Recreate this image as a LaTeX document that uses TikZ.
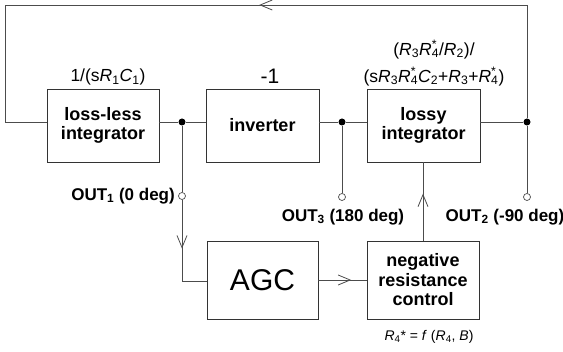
\documentclass[tikz,border=0pt]{standalone}
\usepackage{fontspec}
\setmainfont{Liberation Sans}
\usetikzlibrary{arrows.meta, positioning, calc, decorations.markings}
\newcommand{\Rstar}[1]{\textit{R}\rlap{\textsuperscript{*}}\textsubscript{#1}}

\tikzset{
  block/.style={draw=black!80, line width=0.8pt, minimum width=112pt, minimum height=73pt,
    align=center, font=\fontsize{18}{19.5}\selectfont\bfseries},
  wire/.style={draw=black!70, line width=0.9pt},
  dot/.style={circle, fill=black, inner sep=0pt, minimum size=7pt},
  port/.style={circle, draw=black!70, fill=white, line width=0.7pt, inner sep=0pt, minimum size=7pt},
  outlabel/.style={font=\fontsize{17}{19}\selectfont\bfseries, inner sep=1pt},
  formula/.style={font=\fontsize{17.5}{27}\selectfont, align=center, inner sep=1pt},
  midarrow/.style={postaction={decorate}, decoration={markings,
    mark=at position #1 with {\arrow{Straight Barb[length=12pt, width=10pt, line width=0.8pt]}}}},
  midarrow/.default=0.57
}

\begin{document}
\begin{tikzpicture}[x=1pt, y=-1pt]
  \useasboundingbox[fill=white] (0,0) rectangle (563,352);

  % blocks
  \node[block] (lossless) at (103,125.5) {loss-less\\integrator};
  \node[block, minimum width=113pt] (inverter) at (262.5,125.5) {inverter};
  \node[block, minimum width=113pt] (lossy) at (423.5,125.5) {lossy\\integrator};
  \node[block, minimum width=111pt, minimum height=78pt, font=\fontsize{30}{34}\selectfont] (agc) at (262.5,280) {AGC};
  \node[block, minimum height=78pt] (negres) at (423,280) {negative\\resistance\\control};

  % branch points and outputs
  \node[dot] (dotA) at (182,122) {};
  \node[dot] (dotB) at (342,122) {};
  \node[dot] (dotC) at (527,122) {};
  \node[port] (out1) at (182,196) {};
  \node[port] (out3) at (342,197) {};
  \node[port] (out2) at (527,197) {};
  \coordinate (tr) at (527,5);
  \coordinate (tl) at (5,5);
  \coordinate (bl) at (5,122);
  \coordinate (agcin) at (182,281);

  % labels
  \node[formula] (glossless) at (108,77) {1/(s\textit{R}\textsubscript{1}\textit{C}\textsubscript{1})};
  \node[formula, font=\fontsize{21}{23}\selectfont] (ginv) at (270,76) {-1};
  \node[formula] (glossy) at (434,63) {(\textit{R}\textsubscript{3}\Rstar{4}/\textit{R}\textsubscript{2})/\\
    (s\textit{R}\textsubscript{3}\Rstar{4}\textit{C}\textsubscript{2}+\textit{R}\textsubscript{3}+\Rstar{4})};
  \node[formula, font=\fontsize{14}{16}\selectfont] (grel) at (429,337) {\textit{R}\textsubscript{4}* = \textit{f} (\textit{R}\textsubscript{4}, \textit{B})};
  \node[outlabel, anchor=east] (l1) at (176,196) {OUT\textsubscript{1} (0 deg)};
  \node[outlabel] (l3) at (343,217) {OUT\textsubscript{3} (180 deg)};
  \node[outlabel] (l2) at (505,217) {OUT\textsubscript{2} (-90 deg)};

  % signal path
  \draw[wire] (lossless.east |- dotA) -- (dotA) -- (inverter.west |- dotA);
  \draw[wire] (inverter.east |- dotB) -- (dotB) -- (lossy.west |- dotB);
  \draw[wire] (lossy.east |- dotC) -- (dotC);
  \draw[wire] (dotA) -- (out1);
  \draw[wire] (dotB) -- (out3);
  \draw[wire] (dotC) -- (out2);
  \draw[wire, midarrow=0.48] (dotC) -- (tr) -- (tl) -- (bl) -- (lossless.west |- bl);
  \draw[wire, midarrow=0.6] (out1) -- (agcin);
  \draw[wire] (agcin) -- (agc.west |- agcin);
  \draw[wire, midarrow=0.68] (agc.east) -- (negres.west);
  \draw[wire, midarrow=0.6] (negres.north) -- (negres.north |- lossy.south);
\end{tikzpicture}
\end{document}
